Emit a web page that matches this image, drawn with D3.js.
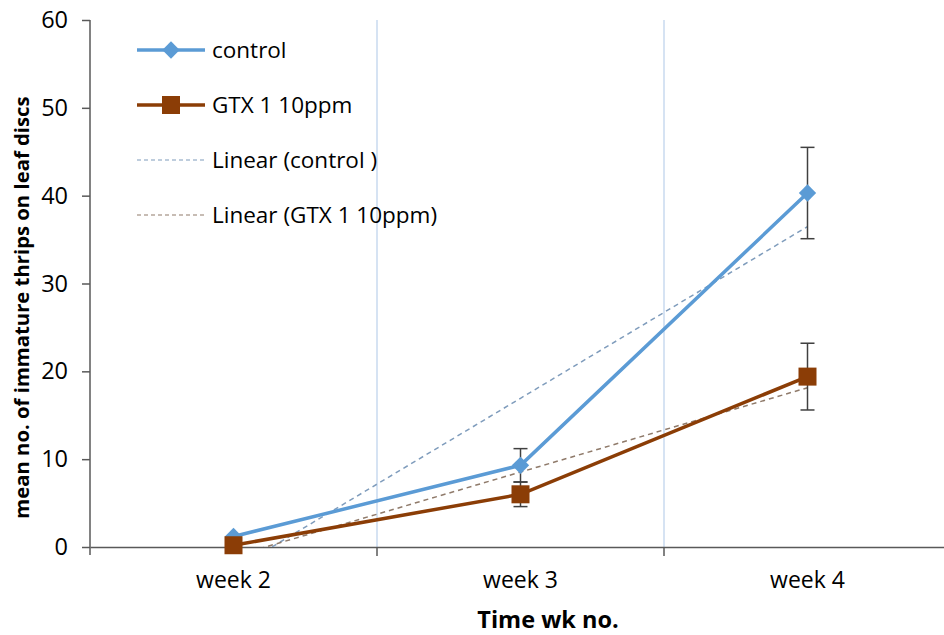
<!DOCTYPE html>
<html><head><meta charset="utf-8">
<script src="https://cdn.jsdelivr.net/npm/d3@7"></script>
<style>body{margin:0;background:#fff}svg{display:block;font-family:"Open Sans",Calibri,sans-serif}</style>
</head><body><svg id="c" width="944" height="635"></svg>
<script>
const categories = ["week 2", "week 3", "week 4"];
const controlMean = [1.2, 9.3, 40.3];
const controlErr = [0.4, 1.9, 5.2];
const gtxMean = [0.2, 6.0, 19.4];
const gtxErr = [0.2, 1.4, 3.8];
const yTicks = [0, 10, 20, 30, 40, 50, 60];
const seriesNames = ["control", "GTX 1 10ppm", "Linear (control )", "Linear (GTX 1 10ppm)"];

const svg = d3.select("#c");
const m = {l: 90, r: -7, t: 20, b: 88};
const W = 944, H = 635;
const x = d3.scaleBand().domain(categories).range([m.l, W - m.r]).padding(0);
const y = d3.scaleLinear().domain([0, 60]).range([547, 20]);
const cx = c => x(c) + x.bandwidth() / 2;

const blue = "#5b9bd5", brown = "#8b3d06";

// vertical gridlines at category boundaries
svg.append("g").selectAll("line").data(categories.slice(1)).join("line")
  .attr("x1", d => x(d)).attr("x2", d => x(d)).attr("y1", y(60)).attr("y2", y(0))
  .attr("stroke", "#c9daef").attr("stroke-width", 1.5);

// clip region
svg.append("clipPath").attr("id", "plot").append("rect")
  .attr("x", m.l).attr("y", y(60)).attr("width", W).attr("height", y(0) - y(60));

// y axis
const yAxis = svg.append("g").attr("transform", `translate(${m.l},0)`)
  .call(d3.axisLeft(y).tickValues(yTicks).tickSize(8).tickPadding(14));
yAxis.select(".domain").attr("stroke", "#595959").attr("stroke-width", 1.5).attr("d", `M0,${y(60)}H0V${y(0)+8}`);
yAxis.selectAll(".tick line").attr("stroke", "#595959").attr("stroke-width", 1.5);
yAxis.selectAll("text").attr("font-size", 23.5).attr("fill", "#000").attr("font-family", "Open Sans");

// x axis
const xAxis = svg.append("g").attr("transform", `translate(0,${y(0)})`)
  .call(d3.axisBottom(x).tickSize(0).tickPadding(25));
xAxis.select(".domain").attr("stroke", "#595959").attr("stroke-width", 1.5);
xAxis.selectAll("text").attr("font-size", 23).attr("fill", "#000").attr("font-family", "Open Sans");
xAxis.selectAll(".tick line").remove();
svg.append("g").selectAll("line").data(categories.slice(1)).join("line")
  .attr("x1", d => x(d)).attr("x2", d => x(d)).attr("y1", y(0)).attr("y2", y(0) + 9)
  .attr("stroke", "#595959").attr("stroke-width", 1.5);

// axis titles
svg.append("text").attr("x", 548).attr("y", 628).attr("text-anchor", "middle")
  .attr("font-size", 23.5).attr("font-weight", "bold").text("Time wk no.");
svg.append("text").attr("transform", `translate(29,${(y(0)+y(60))/2+24}) rotate(-90)`).attr("text-anchor", "middle")
  .attr("font-size", 20.3).attr("font-weight", "bold").text("mean no. of immature thrips on leaf discs");

// linear trend lines (least squares over category index)
function trend(vals) {
  const xs = vals.map((v, i) => i + 1);
  const mx = d3.mean(xs), my = d3.mean(vals);
  const b = d3.sum(xs, (xi, i) => (xi - mx) * (vals[i] - my)) / d3.sum(xs, xi => (xi - mx) ** 2);
  const a = my - b * mx;
  return xs.map(xi => a + b * xi);
}
const tline = d3.line().x((d, i) => cx(categories[i])).y(d => y(d));
const gClip = svg.append("g").attr("clip-path", "url(#plot)");
gClip.append("path").attr("d", tline(trend(controlMean))).attr("fill", "none")
  .attr("stroke", "#7f9cbc").attr("stroke-width", 1.5).attr("stroke-dasharray", "5,4");
gClip.append("path").attr("d", tline(trend(gtxMean))).attr("fill", "none")
  .attr("stroke", "#8f7a6a").attr("stroke-width", 1.5).attr("stroke-dasharray", "5,4");

// error bars
function errBars(mean, err) {
  const g = svg.append("g").attr("stroke", "#404040").attr("stroke-width", 1.5);
  mean.forEach((v, i) => {
    if (err[i] < 0.5) return;
    const X = cx(categories[i]);
    g.append("line").attr("x1", X).attr("x2", X).attr("y1", y(v + err[i])).attr("y2", y(Math.max(0, v - err[i])));
    [v + err[i], v - err[i]].forEach(e => g.append("line").attr("x1", X - 7).attr("x2", X + 7).attr("y1", y(e)).attr("y2", y(e)));
  });
}
errBars(controlMean, controlErr);
errBars(gtxMean, gtxErr);

// series lines
const sline = d3.line().x((d, i) => cx(categories[i])).y(d => y(d));
svg.append("path").attr("d", sline(controlMean)).attr("fill", "none").attr("stroke", blue).attr("stroke-width", 3.5);
svg.append("path").attr("d", sline(gtxMean)).attr("fill", "none").attr("stroke", brown).attr("stroke-width", 3.5);

// markers
const diamond = d3.symbol().type(d3.symbolSquare).size(150);
svg.append("g").selectAll("path").data(controlMean).join("path")
  .attr("transform", (d, i) => `translate(${cx(categories[i])},${y(d)}) rotate(45)`).attr("d", diamond).attr("fill", blue);
svg.append("g").selectAll("rect").data(gtxMean).join("rect")
  .attr("x", (d, i) => cx(categories[i]) - 9).attr("y", d => y(d) - 9).attr("width", 18).attr("height", 18)
  .attr("fill", brown);

// legend
const leg = svg.append("g");
const rows = [50, 105, 160, 215];
const lx1 = 137, lx2 = 205;
leg.append("line").attr("x1", lx1).attr("x2", lx2).attr("y1", rows[0]).attr("y2", rows[0]).attr("stroke", blue).attr("stroke-width", 3.5);
leg.append("path").attr("transform", `translate(171,${rows[0]}) rotate(45)`).attr("d", diamond).attr("fill", blue);
leg.append("line").attr("x1", lx1).attr("x2", lx2).attr("y1", rows[1]).attr("y2", rows[1]).attr("stroke", brown).attr("stroke-width", 3.5);
leg.append("rect").attr("x", 162).attr("y", rows[1] - 9).attr("width", 18).attr("height", 18).attr("fill", brown);
leg.append("line").attr("x1", lx1).attr("x2", lx2).attr("y1", rows[2]).attr("y2", rows[2]).attr("stroke", "#7f9cbc").attr("stroke-width", 1.2).attr("stroke-dasharray", "4,3");
leg.append("line").attr("x1", lx1).attr("x2", lx2).attr("y1", rows[3]).attr("y2", rows[3]).attr("stroke", "#8f7a6a").attr("stroke-width", 1.2).attr("stroke-dasharray", "4,3");
leg.selectAll("text").data(seriesNames).join("text")
  .attr("x", 212).attr("y", (d, i) => rows[i] + 8).attr("font-size", 22.5).attr("fill", "#000").text(d => d);
</script></body></html>
